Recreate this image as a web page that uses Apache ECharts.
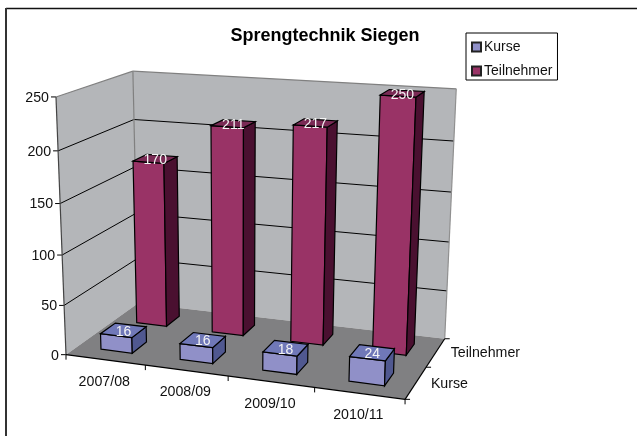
<!DOCTYPE html>
<html><head><meta charset="utf-8">
<style>html,body{margin:0;padding:0;background:#fff}#c{width:637px;height:436px}</style>
<script src="https://cdn.jsdelivr.net/npm/echarts@6/dist/echarts.min.js"></script>
</head><body><div id="c"></div>
<script>
const chartTitle = 'Sprengtechnik Siegen';
const categories = ['2007/08','2008/09','2009/10','2010/11'];
const depthLabels = ['Kurse','Teilnehmer'];
const kurse = [16,16,18,24];
const teilnehmer = [170,211,217,250];
const valueTicks = [0,50,100,150,200,250];
const FONT = '"Liberation Sans", Arial, sans-serif';

// camera calibration: [u,v,w] of the plot box -> pixel
const cameraAnchors = [
  [0,0,0,67,354],[1,0,0,405,400],[1,1,0,445,338],[0,1,0,137,304],
  [0,0,1,55,97],[0,1,1,134,71],[1,1,1,456,89]
];
function solve(A,b){
  const n=b.length, M=A.map((r,i)=>r.concat(b[i]));
  for(let i=0;i<n;i++){
    let p=i; for(let r=i+1;r<n;r++) if(Math.abs(M[r][i])>Math.abs(M[p][i])) p=r;
    [M[i],M[p]]=[M[p],M[i]];
    for(let r=0;r<n;r++){ if(r===i) continue; const f=M[r][i]/M[i][i];
      for(let c=i;c<=n;c++) M[r][c]-=f*M[i][c]; }
  }
  return M.map((r,i)=>r[n]/r[i]);
}
const P=(function(){
  const rows=[],rhs=[];
  cameraAnchors.forEach(([u,v,w,X,Y])=>{
    rows.push([u,v,w,1,0,0,0,0,-X*u,-X*v,-X*w]); rhs.push(X);
    rows.push([0,0,0,0,u,v,w,1,-Y*u,-Y*v,-Y*w]); rhs.push(Y);
  });
  const A=[],b=[];
  for(let i=0;i<11;i++){ A.push([]); let s=0;
    for(let j=0;j<11;j++){ let t=0; rows.forEach(r=>t+=r[i]*r[j]); A[i].push(t); }
    rows.forEach((r,k)=>s+=r[i]*rhs[k]); b.push(s);
  }
  return solve(A,b);
})();
function project(u,v,w){
  const d=P[8]*u+P[9]*v+P[10]*w+1;
  return [(P[0]*u+P[1]*v+P[2]*w+P[3])/d,(P[4]*u+P[5]*v+P[6]*w+P[7])/d];
}
const poly=(pts,fill,stroke,lw)=>({type:'polygon',shape:{points:pts},style:{fill:fill,stroke:stroke||null,lineWidth:lw||1,lineJoin:'miter'}});
const seg=(a,b,c,lw)=>({type:'line',shape:{x1:a[0],y1:a[1],x2:b[0],y2:b[1]},style:{stroke:c,lineWidth:lw||1,fill:null}});
const txt=(x,y,t,size,fill,align)=>({type:'text',x:x,y:y,style:{text:String(t),font:size+'px '+FONT,fill:fill,align:align||'center',verticalAlign:'middle'}});

function normaliser(params,api){
  const cs=params.coordSys;
  return {U:x=>(x-cs.x)/cs.width, W:y=>(cs.y+cs.height-y)/cs.height, band:api.size([1,0])[0]/cs.width};
}
function renderBox(row,fills,params,api){
  const n=normaliser(params,api);
  const top=api.coord([api.value(0),api.value(1)]);
  const uc=n.U(top[0]), w=n.W(top[1]);
  const hw=n.band*0.2, u0=uc-hw, u1=uc+hw;
  const v0=(row+0.3)/depthLabels.length, v1=(row+0.7)/depthLabels.length;
  const a=project(u0,v0,0),b=project(u1,v0,0),c=project(u1,v1,0);
  const A=project(u0,v0,w),B=project(u1,v0,w),C=project(u1,v1,w),D=project(u0,v1,w);
  const lc=project(uc,(v0+v1)/2,w);
  return {type:'group',children:[
    poly([a,b,B,A],fills.front,'#000',1.2),
    poly([b,c,C,B],fills.side,'#000',1.2),
    poly([A,B,C,D],fills.top,'#000',1.2),
    txt(lc[0],lc[1]+1.5,api.value(1),14,'#f4f4f4')
  ]};
}
function renderFrame(params,api){
  const n=normaliser(params,api), ch=[];
  const f=[project(0,0,0),project(1,0,0),project(1,1,0),project(0,1,0)];
  const t0=project(0,0,1),t2=project(1,1,1),t3=project(0,1,1);
  ch.push(poly([f[0],f[3],t3,t0],'#b4b6b9'));
  ch.push(poly([f[3],f[2],t2,t3],'#b4b6b9'));
  ch.push(poly(f,'#808082'));
  valueTicks.forEach(val=>{
    const w=n.W(api.coord([0,val])[1]);
    const a=project(0,0,w),b=project(0,1,w),c=project(1,1,w);
    if(val>0&&val<valueTicks[valueTicks.length-1]){ ch.push(seg(a,b,'#000')); ch.push(seg(b,c,'#000')); }
    ch.push(seg([a[0]-5,a[1]],a,'#000'));
    ch.push(txt(a[0]-7,a[1]+1,val,14.2,'#111','right'));
  });
  ch.push(seg(t0,t3,'#808080',1.2)); ch.push(seg(t3,t2,'#808080',1.2));
  ch.push(seg(f[3],t3,'#808080',1.2)); ch.push(seg(f[2],t2,'#909090',1.2));
  ch.push(seg(f[0],t0,'#444',1.2));
  ch.push(seg(f[0],f[1],'#000',1.2)); ch.push(seg(f[1],f[2],'#000',1.2));
  categories.forEach((c,i)=>{
    const u=n.U(api.coord([i,0])[0]);
    const e=project(u+n.band/2,0,0);
    ch.push(seg(e,[e[0],e[1]+5],'#000'));
    const l=project(u,0,0);
    ch.push(txt(l[0]-1,l[1]+22,c,14.2,'#111'));
  });
  const s0=project(0,0,0); ch.push(seg(s0,[s0[0],s0[1]+5],'#000'));
  depthLabels.forEach((d,i)=>{
    const e=project(1,(i+1)/depthLabels.length,0);
    ch.push(seg(e,[e[0]+5,e[1]],'#000'));
    const l=project(1,(i+0.5)/depthLabels.length,0);
    ch.push(txt(l[0]+15,l[1]+1,d,14.2,'#111','left'));
  });
  const e0=project(1,0,0); ch.push(seg(e0,[e0[0]+5,e0[1]],'#000'));
  return {type:'group',children:ch};
}
const kurseFills={front:'#9090c8',top:'#7078b8',side:'#505890'}, teilFills={front:'#993366',top:'#7a2a55',side:'#4a1030'};
const chart=echarts.init(document.getElementById('c'),null,{renderer:'canvas'});
chart.setOption({
  animation:false,
  backgroundColor:'#fff',
  title:{text:chartTitle,left:320,top:22,textAlign:'center',textStyle:{fontFamily:FONT,fontSize:18,fontWeight:'bold',color:'#000'}},
  legend:{data:['Kurse','Teilnehmer'],orient:'vertical',left:466,top:33,padding:[7,5,2,5],itemGap:10,itemWidth:9,itemHeight:9,icon:'rect',
    borderColor:'#000',borderWidth:1,selectedMode:false,textStyle:{fontFamily:FONT,fontSize:14,color:'#111',padding:[0,0,0,-2]}},
  grid:{left:0,right:0,top:0,bottom:0},
  xAxis:{type:'category',data:categories,show:false},
  yAxis:{type:'value',min:0,max:250,interval:50,show:false},
  graphic:[
    {type:'line',shape:{x1:6,y1:8.5,x2:637,y2:8.5},style:{stroke:'#111',lineWidth:1.5}},
    {type:'line',shape:{x1:6,y1:8,x2:6,y2:436},style:{stroke:'#333',lineWidth:2}}
  ],
  series:[
    {type:'custom',name:'frame',silent:true,z:1,renderItem:renderFrame,data:[[0,0]],clip:false},
    {type:'custom',name:'Teilnehmer',z:2,itemStyle:{color:teilFills.front,borderColor:'#222',borderWidth:1},
      renderItem:(p,a)=>renderBox(1,teilFills,p,a),encode:{x:0,y:1},data:teilnehmer.map((v,i)=>[i,v])},
    {type:'custom',name:'Kurse',z:3,itemStyle:{color:kurseFills.front,borderColor:'#222',borderWidth:1},
      renderItem:(p,a)=>renderBox(0,kurseFills,p,a),encode:{x:0,y:1},data:kurse.map((v,i)=>[i,v])}
  ]
});
</script></body></html>
